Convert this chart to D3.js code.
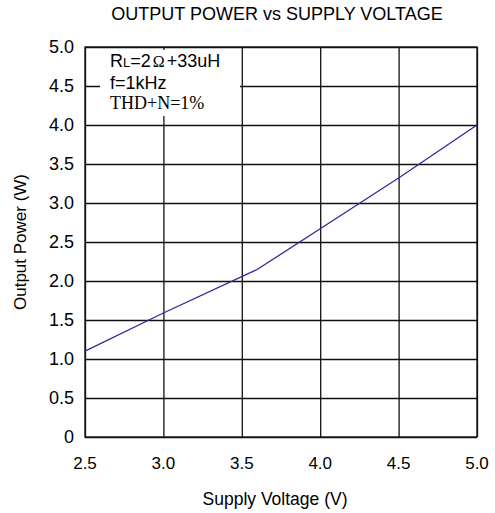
<!DOCTYPE html>
<html>
<head>
<meta charset="utf-8">
<script src="https://cdn.jsdelivr.net/npm/d3@7"></script>
<style>
  body { margin: 0; background: #fff; }
  text { font-family: "Liberation Sans", Arial, sans-serif; fill: #000; }
  .grid line { stroke: #111; stroke-width: 1.3; }
  .grid path { display: none; }
</style>
</head>
<body>
<div id="chart"></div>
<script>
// data
var voltage = [2.5, 3.0, 3.6, 4.0, 4.5, 5.0];
var power = [1.10, 1.59, 2.15, 2.67, 3.32, 4.0];
var xTicks = [2.5, 3.0, 3.5, 4.0, 4.5, 5.0];
var yTicks = [0, 0.5, 1.0, 1.5, 2.0, 2.5, 3.0, 3.5, 4.0, 4.5, 5.0];

var svgWidth = 495;
var svgHeight = 513;

var margin = { top: 47, right: 18, bottom: 76, left: 85 };

var width = svgWidth - margin.left - margin.right;
var height = svgHeight - margin.top - margin.bottom;

var svg = d3.select("#chart")
  .append("svg")
  .attr("width", svgWidth)
  .attr("height", svgHeight);

var chartGroup = svg.append("g")
  .attr("transform", `translate(${margin.left}, ${margin.top})`);

var xScale = d3.scaleLinear().domain([2.5, 5.0]).range([0, width]);
var yScale = d3.scaleLinear().domain([0, 5.0]).range([height, 0]);

// grid lines
chartGroup.append("g")
  .attr("class", "grid")
  .attr("transform", `translate(0, ${height})`)
  .call(d3.axisBottom(xScale).tickValues(xTicks).tickSize(-height).tickFormat(""));

chartGroup.append("g")
  .attr("class", "grid")
  .call(d3.axisLeft(yScale).tickValues(yTicks).tickSize(-width).tickFormat(""));

// legend box covers the grid
chartGroup.append("rect")
  .attr("x", 15)
  .attr("y", 3)
  .attr("width", 140)
  .attr("height", 66)
  .attr("fill", "#fff");

// border
chartGroup.append("rect")
  .attr("width", width)
  .attr("height", height)
  .attr("fill", "none")
  .attr("stroke", "#111")
  .attr("stroke-width", 1.3);

// tick labels
chartGroup.selectAll(".xlab")
  .data(xTicks)
  .enter()
  .append("text")
  .attr("x", d => xScale(d))
  .attr("y", height + 32)
  .attr("text-anchor", "middle")
  .attr("font-size", 17)
  .text(d => d.toFixed(1));

chartGroup.selectAll(".ylab")
  .data(yTicks)
  .enter()
  .append("text")
  .attr("x", -11)
  .attr("y", d => yScale(d))
  .attr("dy", "0.36em")
  .attr("text-anchor", "end")
  .attr("font-size", 18)
  .text(d => d === 0 ? "0" : d.toFixed(1));

// the curve
var line = d3.line()
  .x((d, i) => xScale(voltage[i]))
  .y(d => yScale(d));

chartGroup.append("path")
  .datum(power)
  .attr("d", line)
  .attr("fill", "none")
  .attr("stroke", "#2a2a9c")
  .attr("stroke-width", 1.3);

// legend text
var leg1 = chartGroup.append("text")
  .attr("x", 25)
  .attr("y", 20)
  .attr("font-size", 18);
leg1.append("tspan").text("R");
leg1.append("tspan").attr("font-size", 13).text("L");
leg1.append("tspan").text("=2");
leg1.append("tspan").attr("font-family", "Liberation Serif, serif").attr("font-size", 16).attr("dx", 2).text("Ω");
leg1.append("tspan").attr("dx", 2).text("+33uH");

chartGroup.append("text")
  .attr("x", 25)
  .attr("y", 42)
  .attr("font-size", 18)
  .text("f=1kHz");

chartGroup.append("text")
  .attr("x", 25)
  .attr("y", 62)
  .attr("font-size", 18)
  .style("font-family", "Liberation Serif, serif")
  .text("THD+N=1%");

// title and axis titles
svg.append("text")
  .attr("x", 277)
  .attr("y", 20)
  .attr("text-anchor", "middle")
  .attr("font-size", 18)
  .text("OUTPUT POWER vs SUPPLY VOLTAGE");

svg.append("text")
  .attr("x", 275)
  .attr("y", 505)
  .attr("text-anchor", "middle")
  .attr("font-size", 17.5)
  .text("Supply Voltage (V)");

svg.append("text")
  .attr("transform", `translate(26, ${margin.top + height / 2}) rotate(-90)`)
  .attr("text-anchor", "middle")
  .attr("font-size", 17)
  .text("Output Power (W)");
</script>
</body>
</html>
